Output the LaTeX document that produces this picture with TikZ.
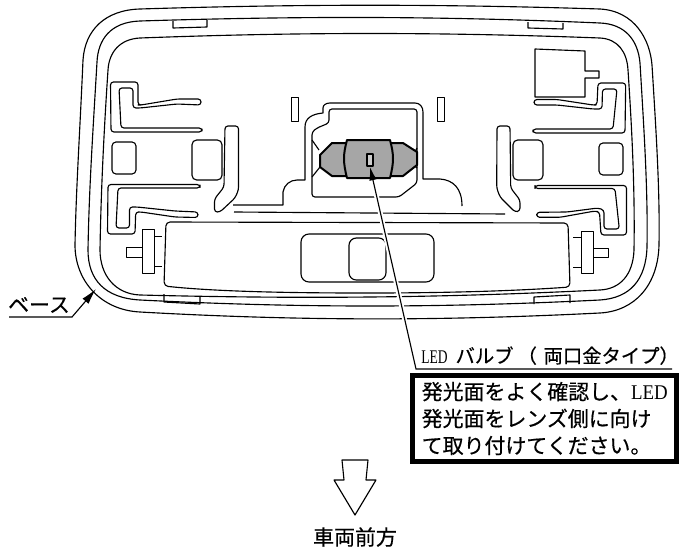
\documentclass[tikz,border=0pt]{standalone}
\usepackage{fontspec}
\usepackage{tikz}
\usetikzlibrary{arrows.meta}
\newfontfamily\cjkfont[FakeBold=0.5]{Noto Sans CJK JP}
\newfontfamily\ledfont[FakeStretch=0.7]{Liberation Serif}
\newfontfamily\ledwide[FakeStretch=0.9]{Liberation Serif}
\tikzset{
    part/.style={draw, line width=0.85pt, line join=round},
    hook/.style={part, rounded corners=2.2pt},
    leader/.style={draw, line width=0.85pt},
    halo/.style={draw=white, line width=3.6pt},
    label/.style={inner sep=0pt, font=\cjkfont\fontsize{15.7}{20.2}\selectfont}
}

\begin{document}
\begin{tikzpicture}[x=0.75pt, y=-0.75pt]
            \useasboundingbox (0,0) rectangle (679,550);

            \draw [part] (140,9) .. controls (300,4) and (440,4) .. (600,9) .. controls (635,11) and (650,40) .. (652,65) .. controls (656,130) and (660,190) .. (659,245) .. controls (658,285) and (635,311) .. (600,313) .. controls (440,321) and (300,321) .. (140,312) .. controls (100,310) and (75,280) .. (75,245) .. controls (76,190) and (80,130) .. (83,60) .. controls (85,30) and (105,10) .. (140,9) -- cycle;
            \draw [part] (140,21) .. controls (300,16) and (440,16) .. (600,23) .. controls (625,24) and (638,40) .. (640,63) .. controls (644,130) and (648,190) .. (647,247) .. controls (646,280) and (630,298) .. (600,300) .. controls (440,308) and (300,308) .. (140,300) .. controls (105,298) and (88,280) .. (88,250) .. controls (89,190) and (93,130) .. (97,62) .. controls (98,40) and (110,22) .. (140,21) -- cycle;
            \draw [part] (140,38) .. controls (300,32) and (440,32) .. (600,38) .. controls (618,39) and (627,52) .. (628,70) .. controls (632,130) and (635,190) .. (634,250) .. controls (633,275) and (620,289) .. (600,290) .. controls (440,298) and (300,299) .. (140,295) .. controls (115,294) and (100,275) .. (100,250) .. controls (101,190) and (104,130) .. (108,70) .. controls (109,52) and (120,39) .. (140,38) -- cycle;

            \draw [part] (173,21) -- (173,28) -- (207,27) -- (207,20);
            \draw [part] (528,22) -- (528,28) -- (563,29) -- (563,23);
            \draw [part] (164,294) -- (164,302) -- (200,304) -- (200,296);
            \draw [part] (534,304) -- (534,297) -- (570,295) -- (570,303);

            \draw [hook] (201,99) -- (177,99) -- (141,105) -- (138,105) -- (138,82) -- (110.5,82) -- (111,132) -- (202,132) -- (202,128) -- (121,128) -- (119,88) -- (133,88) -- (133,108) -- (140,108) -- (177,104) -- (201,105) -- cycle;
            \draw [hook] (200,184.5) -- (108,184.5) -- (107.5,234) -- (135,234) -- (135.7,212) -- (141,212) -- (175,217) -- (198,217.5) -- (198,212) -- (175,211) -- (137,207) -- (129.5,207) -- (129.5,228) -- (116,228) -- (118,188) -- (200,188) -- cycle;
            \draw [hook] (534,99.5) -- (557,99.5) -- (593,105) -- (597,105) -- (598,83) -- (625.7,83) -- (625,133) -- (533,133) -- (533,129) -- (613,129) -- (617,89) -- (602.5,89) -- (602,109) -- (593,109) -- (557,105) -- (534,105) -- cycle;
            \draw [hook] (535,185.5) -- (626.5,185.5) -- (626.5,235) -- (601,235) -- (599.5,212) -- (595,211) -- (560,217.3) -- (536.7,217.3) -- (536.7,212.3) -- (567,212) -- (598,208) -- (604,210) -- (604,229) -- (619.3,229) -- (615,188.5) -- (535,188.5) -- cycle;

            \draw [part, rounded corners=3pt] (112,142) rectangle (136,174);
            \draw [part, rounded corners=3.5pt] (192,140) rectangle (222,180);
            \draw [part, rounded corners=3.5pt] (513,140) rectangle (543,180);
            \draw [part, rounded corners=3pt] (599,143) rectangle (623,175);

            \draw [hook] (225,126) -- (238.5,126) -- (238.5,190) -- (235,198) -- (220,212) -- (214.5,212) -- (214.5,199) -- (224,187) -- cycle;
            \draw [hook] (510,126) -- (497,126) -- (496.7,188) -- (500,197) -- (515,212) -- (520,211) -- (520,200) -- (510.7,188) -- cycle;

            \draw [part] (142.5,229.5) rectangle (154.5,273.5);
            \draw [part] (126.5,247.5) rectangle (142.5,257.5);
            \draw [part] (154.5,236.5) -- (162,236.5);
            \draw [part] (154.5,266.5) -- (162,266.5);
            \draw [part] (581.5,231.5) rectangle (593.5,273.5);
            \draw [part] (593.5,248.5) rectangle (608.5,257.5);
            \draw [part] (573,237.5) -- (581.5,237.5);
            \draw [part] (573,267.5) -- (581.5,267.5);

            \draw [part] (535,49) -- (585,51) -- (585,71) -- (599,71) -- (599,78) -- (585,78) -- (585,97) -- (535,97) -- cycle;

            \draw [part] (291.5,97.5) rectangle (298.5,121.5);
            \draw [part] (437.5,97.5) rectangle (444.5,121.5);

            \draw [part] (233,205) -- (283,205) -- (283,192) .. controls (284,185) and (290,180) .. (297,180) -- (305,180) -- (305,127) .. controls (305,118) and (312,114) .. (323,113) -- (323,108) .. controls (323,105) and (326,103) .. (330,103) -- (415,103) .. controls (420,103) and (423,107) .. (423,112) -- (423,179) -- (440,179) .. controls (453,180) and (462,188) .. (462,206);
            \draw [hook] (312,132) -- (312,197) -- (399,197) -- (417,183) -- (417,109) -- (329,109) -- (329,123) -- (317,128) -- cycle;
            \draw [part] (312,140) -- (319,150);
            \draw [part] (312,177) -- (320,167);
            \draw [part] (417,148) -- (415,152);
            \draw [part] (417,168) -- (415,166);
            \draw [part] (234,212) -- (505,214);

            \draw [hook, rounded corners=3pt] (166,222) -- (568,223) -- (570,287) .. controls (500,292) and (420,293) .. (367,293) .. controls (300,293) and (220,292) .. (164,286) -- cycle;
            \draw [part, rounded corners=6pt] (301,234) rectangle (434,282);
            \draw [part, rounded corners=5.5pt] (349,238) rectangle (386,280);

            \draw [part, line width=1.5pt, fill=black!35] (320,155) -- (332,143) -- (403,143) -- (417,152) -- (417,165) -- (403,176) -- (332,176) -- (320,167) -- cycle;
            \draw [part, line width=1.5pt, fill=black!35] (347,140) .. controls (343,155) and (343,162) .. (347,178) -- (390,178) .. controls (394,162) and (394,155) .. (390,140) -- cycle;
            \draw [part, fill=black!20] (367,154) rectangle (373,166);

            \coordinate (bulbtip) at (370,167);
            \coordinate (halotop) at (375.6,192);
            \coordinate (halofoot) at (406,326);
            \coordinate (ledfoot) at (416,369);
            \node (ledlabel) [label, anchor=base west, font=\cjkfont\fontsize{14.5}{20}\selectfont] at (421,363) {{\ledfont LED}\hspace{6pt}バルブ\hspace{3pt}（\hspace{5pt}両口金タイプ）};
            \coordinate (ledend) at (672,369);
            \draw [halo] (halotop) to (halofoot);
            \draw [leader, -{Latex[length=10pt, width=5.5pt]}] (ledend) -- (ledfoot) -- (bulbtip);

            \node (notebox) [label, draw, line width=3.75pt, minimum width=198pt, minimum height=64.5pt, align=left] at (544.7,418.5) {発光面をよく確認し、{\ledwide LED}\\発光面をレンズ側に向け\\て取り付けてください。};

            \draw [part] (342,460) -- (368,460) -- (366,480) -- (376,480) -- (355,515) -- (334,480) -- (344,480) -- cycle;
            \node (frontlabel) [label] at (355,537) {車両前方};

            \node (baselabel) [label] at (39,305) {ベース};
            \coordinate (basestart) at (9,317);
            \coordinate (basebend) at (72,317);
            \coordinate (basetip) at (96,289);
            \draw [leader, -{Latex[length=12pt, width=6pt]}] (basestart) -- (basebend) -- (basetip);
\end{tikzpicture}
\end{document}
